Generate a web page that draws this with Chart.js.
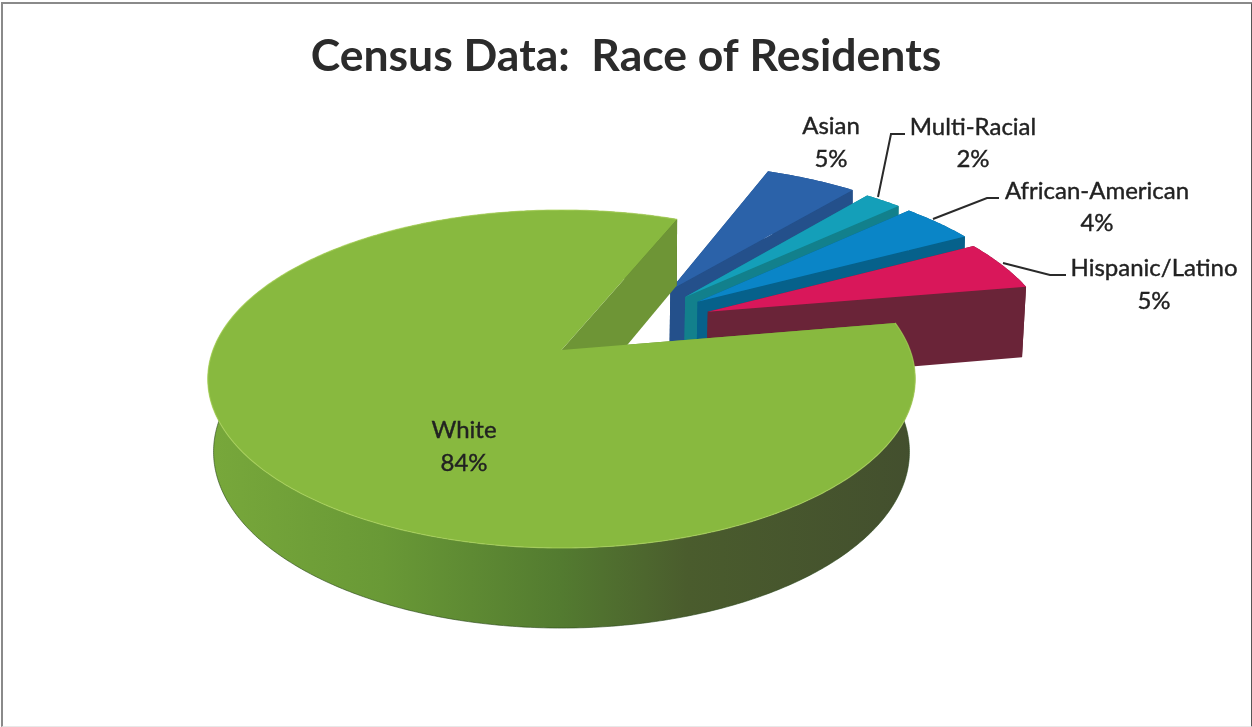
<!DOCTYPE html>
<html>
<head>
<meta charset="utf-8">
<title>Census Data: Race of Residents</title>
<script src="https://cdn.jsdelivr.net/npm/chart.js@4/dist/chart.umd.min.js"></script>
<style>
    body { margin: 0; background: #fff; }
    #wrap { position: relative; width: 1252px; height: 727px; overflow: hidden; }
    #frame {
        position: absolute; left: 1px; top: 2px; width: 1248px; height: 722px;
        border-left: 2px solid #8a8a8a; border-top: 2px solid #8a8a8a;
        border-right: 2px solid #555; border-bottom: 1px solid #e8e8e8;
    }
</style>
</head>
<body>
<div id="wrap">
    <canvas id="censusChart" width="1252" height="727"></canvas>
    <div id="frame"></div>
</div>
<script>
var categories = ['White', 'Asian', 'Multi-Racial', 'African-American', 'Hispanic/Latino']
var percentages = [84, 5, 2, 4, 5]

var topColors = ['#88b93f', '#2b62a9', '#149fb9', '#0a85c7', '#d9175a']
var wallColors = ['#6e9536', '#24508b', '#12808c', '#06618b', '#6a2438']

// pie explosion in the plane of the pie, degrees clockwise from 12 o'clock
var explodeDistance = [0, 0.513, 0.508, 0.515, 0.5]
var explodeDirection = [0, 40.5, 47.7, 53, 61]
var sliceRadius = [1, 1.03, 1.03, 1.02, 1.005]

// label rows and the leader line if it has one
var labelLayout = [
    { x: 464, y: 430, rowGap: 33 },
    { x: 831, y: 126, rowGap: 33 },
    { x: 973, y: 127, rowGap: 32, leader: [[878, 197], [891, 134], [905, 134]] },
    { x: 1097, y: 191, rowGap: 32, leader: [[933, 219], [987, 198], [999, 198]] },
    { x: 1154, y: 268, rowGap: 33, leader: [[1003, 263], [1050, 275], [1066, 275]] }
]

// perspective view of the top and bottom of the cylinder
var topPlane = { x: 561.5, y: 350, rx: 348.5, ry: 164, k: 0.1716 }
var bottomPlane = { x: 561.5, y: 424, rx: 343.6, ry: 171.9, k: 0.1576 }

function project(plane, u, v) {
    var w = 1 - plane.k * v
    return [plane.x + plane.rx * u / w, plane.y + plane.ry * v / w]
}

function arcPoints(plane, i, start, end) {
    var dir = explodeDirection[i] * Math.PI / 180
    var cu = explodeDistance[i] * Math.sin(dir)
    var cv = -explodeDistance[i] * Math.cos(dir)
    var steps = Math.max(2, Math.ceil((end - start) * 90))
    var points = []
    for (var s = 0; s <= steps; s++) {
        var a = start + (end - start) * s / steps
        points.push(project(plane, cu + sliceRadius[i] * Math.cos(a), cv + sliceRadius[i] * Math.sin(a)))
    }
    return { center: project(plane, cu, cv), points: points }
}

function tracePath(ctx, points) {
    ctx.beginPath()
    points.forEach(function (p, n) {
        if (n === 0) { ctx.moveTo(p[0], p[1]) } else { ctx.lineTo(p[0], p[1]) }
    })
}

function fillPolygon(ctx, points, color) {
    tracePath(ctx, points)
    ctx.closePath()
    ctx.fillStyle = color
    ctx.fill()
}

function strokeLine(ctx, points, color, width) {
    tracePath(ctx, points)
    ctx.strokeStyle = color
    ctx.lineWidth = width
    ctx.stroke()
}

function whiteWallGradient(ctx) {
    var gradient = ctx.createLinearGradient(205, 0, 915, 0)
    gradient.addColorStop(0, '#78a83b')
    gradient.addColorStop(0.25, '#699936')
    gradient.addColorStop(0.5, '#537b30')
    gradient.addColorStop(0.68, '#4a5c2d')
    gradient.addColorStop(1, '#434f2e')
    return gradient
}

var pie3d = {
    id: 'pie3d',
    beforeDatasetDraw: function (chart, args) {
        var ctx = chart.ctx
        var slices = args.meta.data
        // back to front: the small slices first, White last
        ;[1, 2, 3, 4, 0].forEach(function (i) {
            var props = slices[i].getProps(['startAngle', 'endAngle'], true)
            var top = arcPoints(topPlane, i, props.startAngle, props.endAngle)
            var bottom = arcPoints(bottomPlane, i, props.startAngle, props.endAngle)
            var last = top.points.length - 1
            var side = top.points.concat(bottom.points.slice().reverse())

            fillPolygon(ctx, side, i === 0 ? whiteWallGradient(ctx) : wallColors[i])
            if (i === 0) { strokeLine(ctx, bottom.points, 'rgba(40,70,25,0.6)', 1) }
            fillPolygon(ctx, [top.center, top.points[0], bottom.points[0], bottom.center], wallColors[i])
            fillPolygon(ctx, [top.center, top.points[last], bottom.points[last], bottom.center], wallColors[i])
            fillPolygon(ctx, [top.center].concat(top.points), slices[i].options.backgroundColor)
            if (i === 0) { strokeLine(ctx, top.points, 'rgba(170,210,90,0.7)', 1.2) }
        })
        return false
    },
    afterDraw: function (chart) {
        var ctx = chart.ctx
        ctx.save()
        labelLayout.forEach(function (layout, i) {
            if (layout.leader) { strokeLine(ctx, layout.leader, '#2a2a2a', 2) }
            ctx.font = '24px Lato'
            ctx.fillStyle = '#222222'
            ctx.strokeStyle = '#222222'
            ctx.lineWidth = 0.4
            ctx.textAlign = 'center'
            ctx.textBaseline = 'middle'
            ctx.fillText(categories[i], layout.x, layout.y)
            ctx.strokeText(categories[i], layout.x, layout.y)
            ctx.fillText(percentages[i] + '%', layout.x, layout.y + layout.rowGap)
            ctx.strokeText(percentages[i] + '%', layout.x, layout.y + layout.rowGap)
        })
        ctx.restore()
    }
}

var censusChart = new Chart(document.getElementById('censusChart').getContext('2d'), {
    type: 'pie',
    data: {
        labels: categories,
        datasets: [{
            data: percentages,
            backgroundColor: topColors,
            borderWidth: 0
        }]
    },
    options: {
        responsive: false,
        animation: false,
        rotation: 80.2,
        layout: { padding: { top: 30 } },
        plugins: {
            legend: { display: false },
            tooltip: { enabled: false },
            title: {
                display: true,
                text: 'Census Data:  Race of Residents',
                color: '#2b2b2b',
                font: { family: 'Lato', size: 44.5, weight: 'bold' },
                padding: { top: 0, bottom: 10 }
            }
        }
    },
    plugins: [pie3d]
})
</script>
</body>
</html>
